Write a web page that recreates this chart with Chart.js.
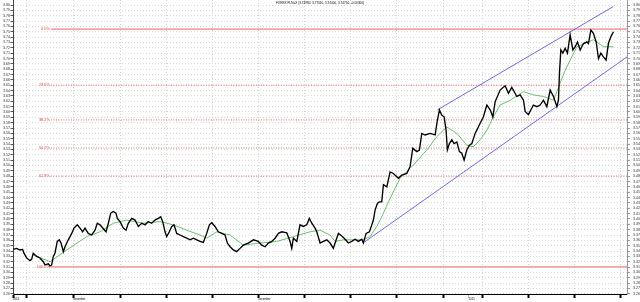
<!DOCTYPE html>
<html>
<head>
<meta charset="utf-8">
<script src="https://cdn.jsdelivr.net/npm/chart.js@4.4.0/dist/chart.umd.min.js"></script>
<style>
  html, body { margin: 0; padding: 0; background: #ffffff; }
  canvas { display: block; }
</style>
</head>
<body>
<canvas id="grafico" width="640" height="302"></canvas>
<script>
// Eje X en dias habiles (0 = lunes 27 oct 2014), eje Y en PLN por USD

const titulo = 'FOREX PLN=X (3.74980, 3.77010, 3.74400, 3.74750, -0.00300)';

// --- PRECIO (linea negra) ---
const dias = [
  -1.5, -1.12, -0.76, -0.47, -0.33, -0.03, 0.33, 0.51, 0.68, 1.05,
  1.41, 1.77, 1.96, 2.32, 2.5, 2.68, 2.86, 3.04, 3.29, 3.51,
  3.7, 3.95, 4.13, 4.49, 4.86, 5.11, 5.47, 5.76, 6.05, 6.3,
  6.66, 7.03, 7.39, 7.64, 7.93, 8.23, 8.59, 8.84, 9.1, 9.38,
  9.67, 9.82, 10.11, 10.47, 10.76, 11.01, 11.38, 11.74, 12.1, 12.47,
  12.83, 13.18, 13.55, 13.91, 14.27, 14.53, 14.75, 15, 15.18, 15.47,
  15.73, 15.98, 16.27, 16.63, 16.99, 17.36, 17.72, 18.08, 18.45, 18.8,
  19.16, 19.53, 19.82, 20.08, 20.43, 20.79, 21.16, 21.52, 21.77, 22.07,
  22.42, 22.79, 23.15, 23.51, 24.05, 24.6, 25.14, 25.51, 25.87, 26.23,
  26.6, 26.96, 27.32, 27.68, 28.23, 28.59, 28.77, 28.95, 29.32, 29.67,
  30.03, 30.4, 30.68, 30.95, 31.3, 31.49, 31.85, 32.21, 32.58, 32.93,
  33.29, 33.48, 33.84, 34.21, 34.57, 34.92, 35.29, 35.65, 36.01, 36.38,
  36.55, 36.85, 37.21, 37.47, 37.64, 37.83, 38.08, 38.29, 38.55, 38.73,
  39.1, 39.46, 39.82, 40.36, 40.73, 41.27, 41.63, 41.92, 42.36, 42.64,
  42.9, 43.26, 43.8, 44.35, 44.6, 44.82, 45.08, 45.33, 45.54, 45.68,
  45.9, 46.16, 46.41, 46.71, 46.99, 47.25, 47.5, 47.79, 48.08, 48.34,
  48.7, 48.88, 49.24, 49.6, 49.97, 50.33, 50.62, 50.87, 51.41, 51.96,
  52.32, 52.68, 53.23, 53.59, 53.95, 54.13, 54.49, 55.03, 55.4, 55.76,
  56.12, 56.49, 56.85, 57.21, 57.58, 57.75, 57.86, 58.01, 58.23, 58.48,
  58.73, 59.02, 59.32, 59.57, 59.82, 60.11, 60.47, 60.84, 61.01, 61.27,
  61.55, 61.85, 62.1, 62.36, 62.64, 62.93, 63.18, 63.45, 63.73
];
const precios = [
  3.343, 3.345, 3.342, 3.343, 3.336, 3.327, 3.322, 3.325, 3.336, 3.330,
  3.327, 3.320, 3.314, 3.316, 3.312, 3.314, 3.330, 3.336, 3.358, 3.361,
  3.355, 3.339, 3.348, 3.361, 3.373, 3.383, 3.389, 3.383, 3.376, 3.383,
  3.373, 3.370, 3.379, 3.392, 3.389, 3.383, 3.376, 3.392, 3.411, 3.414,
  3.411, 3.401, 3.395, 3.383, 3.379, 3.392, 3.401, 3.398, 3.386, 3.392,
  3.389, 3.395, 3.392, 3.398, 3.401, 3.404, 3.395, 3.376, 3.367, 3.376,
  3.386, 3.389, 3.373, 3.370, 3.367, 3.364, 3.361, 3.364, 3.361, 3.358,
  3.356, 3.373, 3.389, 3.393, 3.386, 3.376, 3.373, 3.370, 3.355, 3.348,
  3.342, 3.339, 3.345, 3.351, 3.355, 3.361, 3.358, 3.351, 3.348, 3.355,
  3.358, 3.364, 3.373, 3.376, 3.374, 3.358, 3.345, 3.364, 3.358, 3.389,
  3.386, 3.389, 3.401, 3.392, 3.383, 3.376, 3.355, 3.358, 3.361, 3.355,
  3.345, 3.355, 3.373, 3.368, 3.362, 3.355, 3.358, 3.362, 3.358, 3.362,
  3.355, 3.373, 3.376, 3.389, 3.398, 3.417, 3.429, 3.432, 3.432, 3.464,
  3.460, 3.488, 3.485, 3.476, 3.482, 3.485, 3.498, 3.532, 3.526, 3.529,
  3.560, 3.557, 3.560, 3.557, 3.585, 3.604, 3.594, 3.591, 3.566, 3.529,
  3.541, 3.548, 3.541, 3.544, 3.526, 3.523, 3.510, 3.529, 3.538, 3.541,
  3.560, 3.566, 3.579, 3.591, 3.613, 3.604, 3.591, 3.619, 3.641, 3.649,
  3.635, 3.646, 3.629, 3.632, 3.622, 3.601, 3.595, 3.613, 3.610, 3.613,
  3.622, 3.610, 3.641, 3.629, 3.610, 3.622, 3.672, 3.716, 3.710, 3.719,
  3.710, 3.744, 3.716, 3.722, 3.731, 3.716, 3.728, 3.731, 3.728, 3.753,
  3.747, 3.731, 3.700, 3.710, 3.703, 3.697, 3.728, 3.741, 3.750
];

// --- MEDIA MOVIL (linea verde) ---
const mediaDias = [
  0.68, 2.5, 4.32, 6.49, 7.93, 9.38, 10.84, 12.64, 14.46, 15.9,
  17.36, 18.8, 19.53, 20.62, 22.07, 23.51, 25.33, 27.14, 28.95, 30.76,
  31.85, 32.93, 33.48, 34.38, 35.47, 36.55, 37.28, 38.01, 38.55, 39.27,
  40.54, 41.99, 43.45, 44.53, 45.62, 46.71, 47.79, 48.51, 49.24, 49.97,
  50.68, 51.41, 52.5, 53.95, 55.03, 56.12, 57.21, 58.48, 59.75, 61.55,
  62.64, 63.73
];
const mediaValores = [
  3.333, 3.320, 3.342, 3.367, 3.376, 3.392, 3.398, 3.392, 3.395, 3.389,
  3.379, 3.370, 3.364, 3.376, 3.370, 3.351, 3.355, 3.358, 3.367, 3.376,
  3.379, 3.370, 3.358, 3.361, 3.361, 3.361, 3.367, 3.386, 3.404, 3.432,
  3.476, 3.501, 3.529, 3.554, 3.572, 3.560, 3.538, 3.535, 3.548, 3.566,
  3.591, 3.613, 3.622, 3.638, 3.632, 3.629, 3.622, 3.678, 3.722, 3.735,
  3.722, 3.722
];

// --- CANAL ALCISTA (lineas azules) ---
const canalInfDias = [36.52, 65.2];
const canalInfPrecios = [3.355, 3.703];
const canalSupDias = [44.6, 63.7];
const canalSupPrecios = [3.604, 3.797];

// --- FIBONACCI ---
const fibMax = 3.7551;
const fibMin = 3.3103;
const fibNiveles = [0, 0.236, 0.382, 0.5, 0.618, 1];
const fibEtiquetas = ['0.0%', '23.6%', '38.2%', '50.0%', '61.8%', '100.0%'];
const fibDesde = 2.6;
const fibHasta = 65.2;

// --- EJES ---
const xMin = -1.52, xMax = 65.2;
const yMin = 3.2597, yMax = 3.8094;
const marcasX = [-1.52, 0, 5, 10.11, 15.11, 20.11, 25.11, 30.11, 35.11, 40.11, 45.22, 48, 49.5, 54.5, 59.5, 64.5];
const etiquetasX = { '-1.52': '2014', '5': 'November', '25.11': 'December', '48': '2015' };
const marcasSinLinea = [-1.52, 48];

const FUENTE = '"Liberation Sans", Arial, sans-serif';
Chart.defaults.font.family = FUENTE;

const pares = (xs, ys) => xs.map((x, i) => ({ x: x, y: ys[i] }));
const nivelFib = r => fibMax - r * (fibMax - fibMin);

const datasetsFib = fibNiveles.map(r => {
    const solida = (r === 0 || r === 1);
    return {
        data: [{ x: fibDesde, y: nivelFib(r) }, { x: fibHasta, y: nivelFib(r) }],
        borderColor: solida ? '#f3a3a3' : '#e36a6a',
        borderWidth: solida ? 1.8 : 1,
        borderDash: solida ? [] : [1, 1.5],
        pointRadius: 0,
        order: 10
    };
});

// Textos de Fibonacci y titulo superior
const textosExtra = {
    id: 'textosExtra',
    afterDatasetsDraw(chart) {
        const { ctx, scales: { x, y } } = chart;
        ctx.save();
        ctx.font = '3.9px ' + FUENTE;
        ctx.fillStyle = '#e04040';
        ctx.textAlign = 'right';
        ctx.textBaseline = 'middle';
        fibNiveles.forEach((r, i) => {
            ctx.fillText(fibEtiquetas[i], x.getPixelForValue(fibDesde) - 1, y.getPixelForValue(nivelFib(r)));
        });
        ctx.font = '3.1px ' + FUENTE;
        ctx.fillStyle = '#000';
        ctx.textAlign = 'center';
        ctx.fillText(titulo, 320, 3);
        ctx.restore();
    }
};

const esMarcaSinLinea = c => c.tick && marcasSinLinea.includes(c.tick.value);

const ejeY = (posicion) => ({
    type: 'linear',
    position: posicion,
    min: yMin,
    max: yMax,
    ticks: {
        stepSize: 0.01,
        autoSkip: false,
        includeBounds: false,
        padding: posicion === 'left' ? 0.5 : 3,
        font: { size: 3.6 },
        color: '#333',
        callback: v => Number(v).toFixed(2)
    },
    grid: {
        drawOnChartArea: posicion === 'left',
        color: '#d9d9d9',
        lineWidth: 1,
        tickLength: posicion === 'left' ? 2.5 : 3,
        tickColor: posicion === 'left' ? '#555' : '#999',
        tickWidth: 1
    },
    border: { color: posicion === 'left' ? '#444' : '#999', width: 1, dash: [1, 2] },
    afterFit: s => { s.width = 13; s.paddingTop = 0; s.paddingBottom = 0; }
});

new Chart(document.getElementById('grafico'), {
    type: 'line',
    data: {
        datasets: [
            {
                data: pares(dias, precios),
                borderColor: '#000000',
                borderWidth: 1.35,
                pointRadius: 0,
                order: 0
            },
            {
                data: pares(mediaDias, mediaValores),
                borderColor: '#5cb85c',
                borderWidth: 0.9,
                pointRadius: 0,
                order: 1
            },
            {
                data: pares(canalInfDias, canalInfPrecios),
                borderColor: '#6b6be0',
                borderWidth: 1,
                pointRadius: 0,
                order: 2
            },
            {
                data: pares(canalSupDias, canalSupPrecios),
                borderColor: '#6b6be0',
                borderWidth: 1,
                pointRadius: 0,
                order: 2
            },
            ...datasetsFib
        ]
    },
    options: {
        responsive: false,
        animation: false,
        devicePixelRatio: 1,
        layout: { padding: 0 },
        elements: { line: { tension: 0 } },
        plugins: {
            legend: { display: false },
            tooltip: { enabled: false },
            title: { display: false }
        },
        scales: {
            x: {
                type: 'linear',
                min: xMin,
                max: xMax,
                afterBuildTicks: s => { s.ticks = marcasX.map(v => ({ value: v })); },
                afterFit: s => { s.height = 8; s.paddingLeft = 0; s.paddingRight = 0; },
                ticks: {
                    autoSkip: false,
                    maxRotation: 0,
                    minRotation: 0,
                    align: 'start',
                    padding: 0,
                    font: { size: 2.7 },
                    color: '#000',
                    callback: v => etiquetasX[String(v)] || ''
                },
                grid: {
                    color: c => esMarcaSinLinea(c) ? 'rgba(0,0,0,0)' : '#d3d3d3',
                    lineWidth: 1,
                    tickLength: 4,
                    tickWidth: c => (c.tick && c.tick.value === 48) ? 0.6 : 2,
                    tickColor: c => (c.tick && c.tick.value === 48) ? '#888' : '#000'
                },
                border: { color: '#000', width: 1, dash: [1, 2] }
            },
            y: ejeY('left'),
            y2: ejeY('right')
        }
    },
    plugins: [textosExtra]
});
</script>
</body>
</html>
